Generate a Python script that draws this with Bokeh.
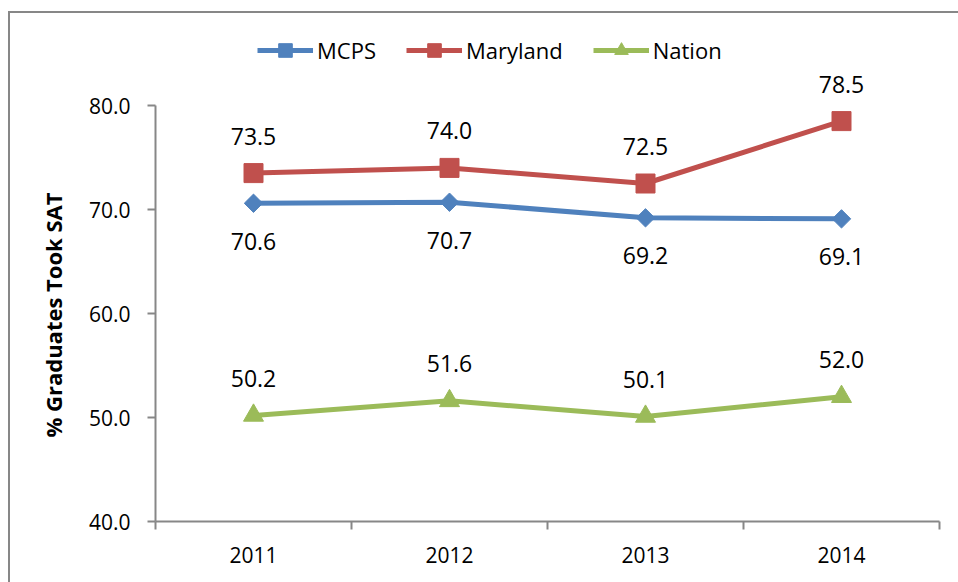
import math
from bokeh.plotting import figure
from bokeh.models import (Range1d, FixedTicker, NumeralTickFormatter, Legend, LegendItem, Title,
                          InlineStyleSheet)
from bokeh.core.properties import value
from bokeh.embed import file_html
from bokeh.resources import INLINE

years = ["2011", "2012", "2013", "2014"]
mcps = [70.6, 70.7, 69.2, 69.1]
maryland = [73.5, 74.0, 72.5, 78.5]
nation = [50.2, 51.6, 50.1, 52.0]
y_ticks = [40, 50, 60, 70, 80]

BLUE = "#4F81BD"
RED = "#C0504D"
GREEN = "#9BBB59"
AXIS = "#878787"
FONT = "Open Sans"

xs = [i + 0.5 for i in range(len(years))]

css = InlineStyleSheet(css="""
:host::before { content: ''; position: absolute; left: 8px; top: 11px; right: 0px; bottom: 0px;
  border: none; border-left: 2px solid #878787; border-top: 2px solid #878787;
  box-shadow: none; outline: none; background: transparent;
  pointer-events: none; z-index: 100; }
""")

p = figure(width=958, height=582, output_backend="svg", toolbar_location=None,
           x_range=Range1d(0, len(years)), y_range=Range1d(40, 80 + 85 / 10.4),
           min_border_left=155, min_border_right=19, min_border_top=20, min_border_bottom=61,
           stylesheets=[css])
p.outline_line_color = None
p.xgrid.grid_line_color = None
p.ygrid.grid_line_color = None
p.background_fill_color = "white"
p.border_fill_color = "white"

# Y axis
ya = p.yaxis[0]
ya.ticker = FixedTicker(ticks=y_ticks, minor_ticks=[])
ya.formatter = NumeralTickFormatter(format="0.0")
ya.bounds = (40, 80)
ya.axis_line_color = AXIS
ya.axis_line_width = 2
ya.major_tick_line_color = AXIS
ya.major_tick_line_width = 2
ya.major_tick_out = 8
ya.major_tick_in = 0
ya.major_label_standoff = 17
ya.major_label_text_font = FONT
ya.major_label_text_font_size = "21px"
ya.major_label_text_color = "black"

# X axis
xa = p.xaxis[0]
xa.ticker = FixedTicker(ticks=xs, minor_ticks=list(range(len(years) + 1)))
xa.major_label_overrides = {x: y for x, y in zip(xs, years)}
xa.bounds = (0, len(years))
xa.axis_line_color = AXIS
xa.axis_line_width = 2
xa.major_tick_line_color = None
xa.major_tick_out = 0
xa.major_tick_in = 0
xa.minor_tick_line_color = AXIS
xa.minor_tick_line_width = 2
xa.minor_tick_out = 8
xa.minor_tick_in = 0
xa.major_label_standoff = 17
xa.major_label_text_font = FONT
xa.major_label_text_font_size = "21px"
xa.major_label_text_color = "black"

series = [
    ("MCPS", mcps, BLUE, "square", math.pi / 4, 13, 38),
    ("Maryland", maryland, RED, "square", 0, 19, -37),
    ("Nation", nation, GREEN, "triangle", 0, 20, -37),
]

items = []
for name, vals, color, marker, ang, size, off in series:
    l = p.line(xs, vals, line_color=color, line_width=5)
    s = p.scatter(xs, vals, marker=marker, angle=ang, size=size,
                  fill_color=color, line_color=color)
    p.text(xs, vals, text=[f"{v:.1f}" for v in vals], y_offset=off,
           text_align="center", text_baseline="middle",
           text_font=value(FONT), text_font_size="23px", text_color="black")
    items.append(LegendItem(label=name, renderers=[l, s]))

legend = Legend(items=items, orientation="horizontal", location=(102, 454),
                glyph_width=56, glyph_height=34, label_standoff=4, spacing=30,
                padding=0, margin=0, border_line_color=None, background_fill_alpha=0,
                label_text_font=FONT, label_text_font_size="22px", label_text_color="black")
p.add_layout(legend)

ytitle = Title(text="% Graduates Took SAT", align="left", offset=84, standoff=36,
               text_font=FONT, text_font_size="22px", text_font_style="bold",
               text_color="black")
p.add_layout(ytitle, "left")

open("out.html", "w").write(file_html(p, INLINE))
